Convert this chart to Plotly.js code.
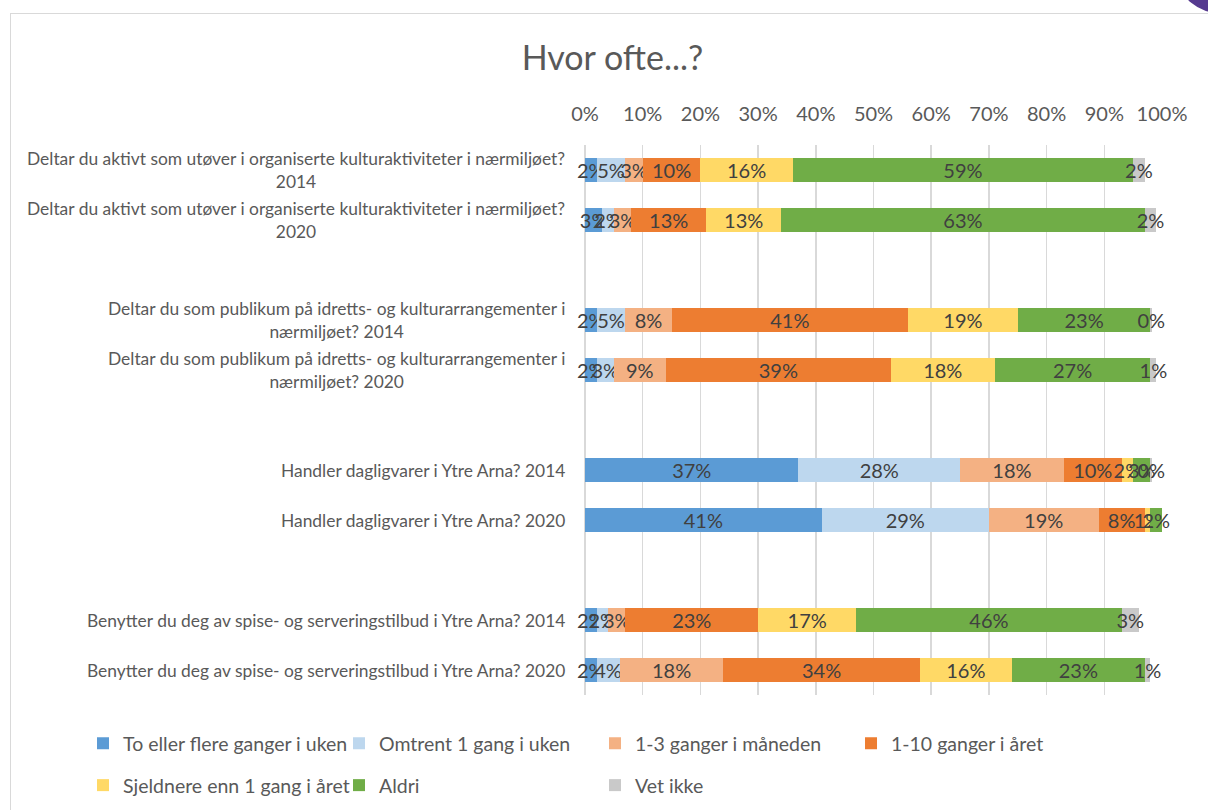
<!DOCTYPE html>
<html><head><meta charset="utf-8">
<script src="https://cdn.plot.ly/plotly-3.0.1.min.js"></script>
<style>
html,body{margin:0;padding:0;background:#fff;overflow:hidden}
#frame{position:absolute;left:10px;top:13px;width:1300px;height:900px;border-left:1.5px solid #d9d9d9;border-top:1.5px solid #d9d9d9}
#dot{position:absolute;left:1178px;top:-62px;width:90px;height:76px;border-radius:50%;background:#563a8f}
#chart{position:absolute;left:0;top:0;width:1208px;height:810px}
</style></head>
<body><div id="frame"></div><div id="dot"></div><div id="chart"></div>
<script>
const categories = [
  "Deltar du aktivt som utøver i organiserte kulturaktiviteter i nærmiljøet?<br>2014",
  "Deltar du aktivt som utøver i organiserte kulturaktiviteter i nærmiljøet?<br>2020",
  " ",
  "Deltar du som publikum på idretts- og kulturarrangementer i<br>nærmiljøet? 2014",
  "Deltar du som publikum på idretts- og kulturarrangementer i<br>nærmiljøet? 2020",
  "  ",
  "Handler dagligvarer i Ytre Arna? 2014",
  "Handler dagligvarer i Ytre Arna? 2020",
  "   ",
  "Benytter du deg av spise- og serveringstilbud i Ytre Arna? 2014",
  "Benytter du deg av spise- og serveringstilbud i Ytre Arna? 2020"
];
const seriesNames = [
  "To eller flere ganger i uken",
  "Omtrent 1 gang i uken",
  "1-3 ganger i måneden",
  "1-10 ganger i året",
  "Sjeldnere enn 1 gang i året",
  "Aldri",
  "Vet ikke"
];
const toEllerFlere = [2, 3, null, 2, 2, null, 37, 41, null, 2, 2];
const omtrent1Uke  = [5, 2, null, 5, 3, null, 28, 29, null, 2, 4];
const maaned1til3  = [3, 3, null, 8, 9, null, 18, 19, null, 3, 18];
const aaret1til10  = [10, 13, null, 41, 39, null, 10, 8, null, 23, 34];
const sjeldnere    = [16, 13, null, 19, 18, null, 2, 1, null, 17, 16];
const aldri        = [59, 63, null, 23, 27, null, 3, 2, null, 46, 23];
const vetIkke      = [2, 2, null, 0.3, 1, null, 0.3, 0.4, null, 3, 1];
const tickValues = [0,10,20,30,40,50,60,70,80,90,100];
const tickLabels = ["0%","10%","20%","30%","40%","50%","60%","70%","80%","90%","100%"];

const seriesValues = [toEllerFlere, omtrent1Uke, maaned1til3, aaret1til10, sjeldnere, aldri, vetIkke];
const colors = ["#5b9bd5","#bdd7ee","#f4b183","#ed7d31","#ffd966","#70ad47","#c9c9c9"];

const traces = seriesValues.map((vals, i) => ({
  type: 'bar',
  orientation: 'h',
  name: seriesNames[i],
  y: categories,
  x: vals,
  marker: {color: colors[i], line: {width: 0}},
  text: vals.map(v => v === null ? '' : Math.round(v) + '%'),
  texttemplate: '%{text}',
  textposition: 'inside',
  insidetextanchor: 'middle',
  textangle: 0,
  constraintext: 'none',
  cliponaxis: false,
  insidetextfont: {family: 'Lato, sans-serif', size: 20, color: '#404040'},
  hoverinfo: 'skip',
  legend: i < 4 ? 'legend' : 'legend2'
}));

const labelAnnotations = categories.filter(c => c.trim() !== '').map(c => ({
  xref: 'paper', yref: 'y', x: -0.031, y: c,
  xanchor: 'right', yanchor: 'middle', align: 'center',
  text: c, showarrow: false,
  font: {family: 'Lato, sans-serif', size: 17.4, color: '#595959'}
}));

const legendFont = {family: 'Lato, sans-serif', size: 19.5, color: '#595959'};

const layout = {
  width: 1208, height: 810,
  paper_bgcolor: 'rgba(0,0,0,0)', plot_bgcolor: 'rgba(0,0,0,0)',
  margin: {l: 585, r: 46, t: 145, b: 115, autoexpand: false},
  barmode: 'stack',
  bargap: 0.52,
  uniformtext: {mode: 'show', minsize: 20},
  title: {text: 'Hvor ofte...?', x: 0.507, xref: 'container', xanchor: 'center',
          y: 0.928, yref: 'container', yanchor: 'middle',
          font: {family: 'Lato, sans-serif', size: 34, color: '#595959'}},
  xaxis: {
    side: 'top', range: [0, 100], tickvals: tickValues, ticktext: tickLabels,
    showgrid: true, gridcolor: '#d9d9d9', gridwidth: 1.5,
    zeroline: true, zerolinecolor: '#d9d9d9', zerolinewidth: 1.5,
    showline: false, ticks: 'outside', ticklen: 15, tickcolor: 'rgba(0,0,0,0)',
    tickfont: {family: 'Lato, sans-serif', size: 20, color: '#595959'},
    fixedrange: true
  },
  yaxis: {
    categoryorder: 'array', categoryarray: categories, autorange: 'reversed',
    showticklabels: false, showgrid: false, zeroline: false, showline: false, ticks: '',
    fixedrange: true
  },
  showlegend: true,
  legend: {orientation: 'h', x: -0.87, xref: 'paper', xanchor: 'left',
           y: -0.053, yref: 'paper', yanchor: 'top',
           font: legendFont, entrywidth: 211, entrywidthmode: 'pixels', traceorder: 'normal',
           bgcolor: 'rgba(0,0,0,0)'},
  legend2: {orientation: 'h', x: -0.87, xref: 'paper', xanchor: 'left',
            y: -0.129, yref: 'paper', yanchor: 'top',
            font: legendFont, entrywidth: 211, entrywidthmode: 'pixels', traceorder: 'normal',
            bgcolor: 'rgba(0,0,0,0)'},
  annotations: labelAnnotations
};

Plotly.newPlot('chart', traces, layout, {staticPlot: true, displayModeBar: false});
</script>
</body></html>
